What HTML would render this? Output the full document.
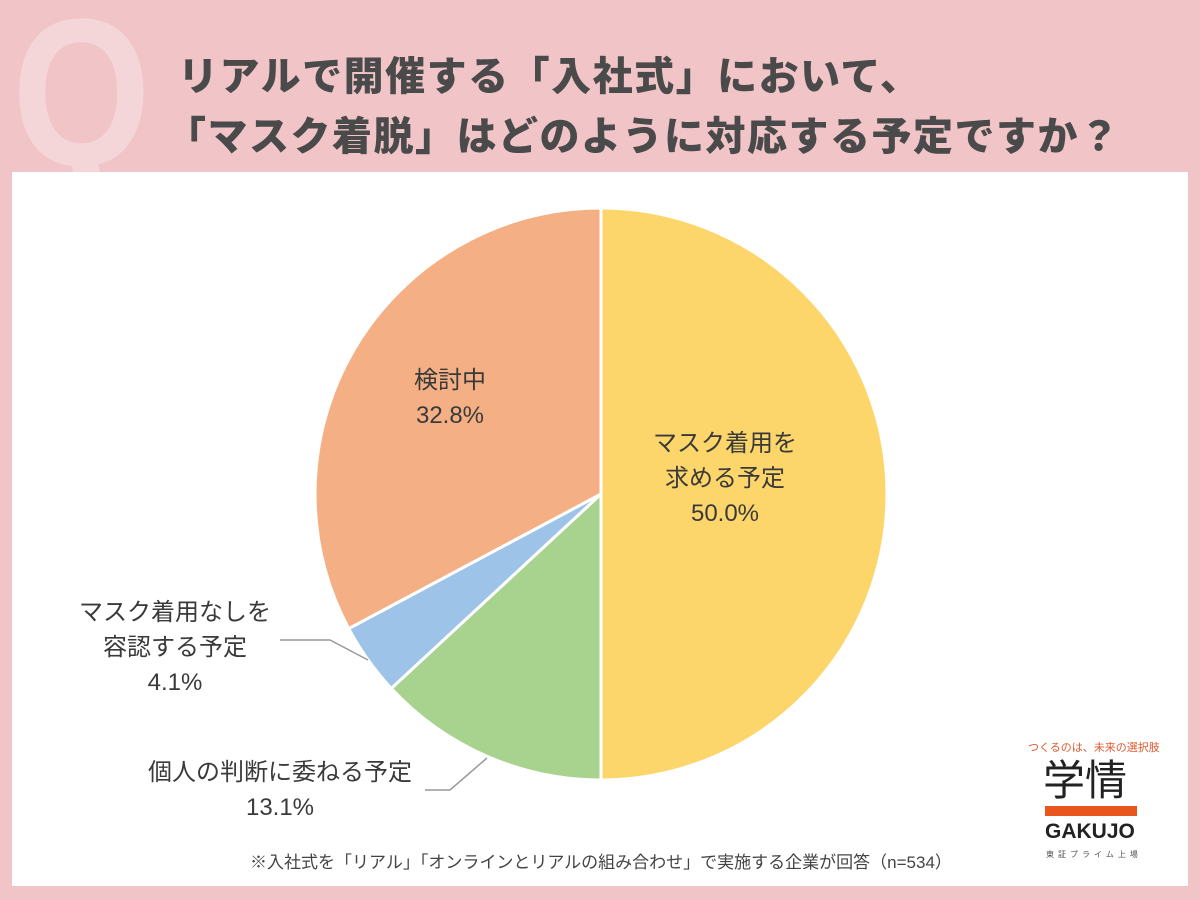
<!DOCTYPE html><html><head><meta charset="utf-8"><style>
body{margin:0;width:1200px;height:900px;background:#f1c5c8;position:relative;overflow:hidden;font-family:"Liberation Sans","Noto Sans CJK JP",sans-serif}
.card{position:absolute;left:12px;top:172px;width:1176px;height:714px;background:#fff}
.q{position:absolute;left:12px;top:-28px;font-size:210px;font-weight:bold;color:#f5d6d8;font-family:"Liberation Sans",sans-serif;transform:scaleX(0.85);transform-origin:left}
.t{position:absolute;left:178px;font-size:40px;font-weight:900;color:#4a4a4a;letter-spacing:1.5px;white-space:nowrap}
.l{position:absolute;font-size:24px;color:#3a3a3a;text-align:center;line-height:35px}
</style></head><body>
<div class="q">Q</div>
<div class="t" style="top:44px">リアルで開催する「入社式」において、</div>
<div class="t" style="top:104px;left:166px">「マスク着脱」はどのように対応する予定ですか？</div>
<div class="card"></div>
<svg style="position:absolute;left:0;top:0" width="1200" height="900">
<g stroke="#fff" stroke-width="3">
<path d="M601,494 L601,208 A286,286 0 0 1 601,780 Z" fill="#fcd66b"/>
<path d="M601,494 L601,780 A286,286 0 0 1 391.3,688.4 Z" fill="#a8d38f"/>
<path d="M601,494 L391.3,688.4 A286,286 0 0 1 348.7,628.6 Z" fill="#9ec3e8"/>
<path d="M601,494 L348.7,628.6 A286,286 0 0 1 601,208 Z" fill="#f4b084"/>
</g>
<polyline points="368,660 330,640 280,640" fill="none" stroke="#999" stroke-width="1.5"/>
<polyline points="487,758 450,790 425,790" fill="none" stroke="#999" stroke-width="1.5"/>
<rect x="1045" y="806" width="92" height="10" fill="#e8561e"/>
</svg>
<div class="l" style="left:620px;top:426px;width:210px">マスク着用を<br>求める予定<br>50.0%</div>
<div class="l" style="left:380px;top:363px;width:140px">検討中<br>32.8%</div>
<div class="l" style="left:55px;top:595px;width:240px">マスク着用なしを<br>容認する予定<br>4.1%</div>
<div class="l" style="left:115px;top:755px;width:330px">個人の判断に委ねる予定<br>13.1%</div>
<div style="position:absolute;left:250px;top:848px;font-size:17px;color:#444">※入社式を「リアル」「オンラインとリアルの組み合わせ」で実施する企業が回答（n=534）</div>
<div style="position:absolute;left:1028px;top:739px;font-size:11px;color:#e05a30">つくるのは、未来の選択肢</div>
<div style="position:absolute;left:1043px;top:756px;font-size:42px;color:#222;line-height:50px">学情</div>
<div style="position:absolute;left:1045px;top:820px;font-size:21px;font-weight:bold;color:#222">GAKUJO</div>
<div style="position:absolute;left:1046px;top:849px;font-size:8px;color:#555;letter-spacing:4px">東証プライム上場</div>
</body></html>
